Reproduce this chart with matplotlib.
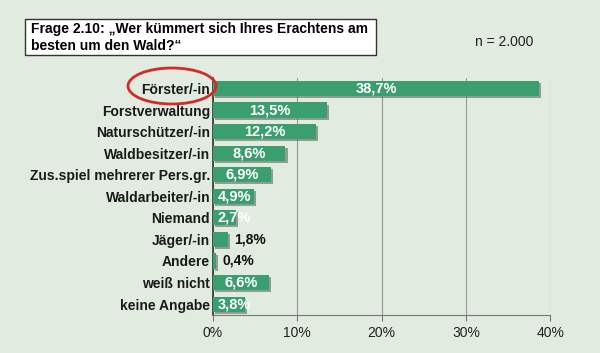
import matplotlib
matplotlib.use("Agg")
import matplotlib.pyplot as plt
import matplotlib.patheffects as pe
from matplotlib.patches import Ellipse, Rectangle

plt.rcParams['font.family'] = ['Liberation Sans', 'DejaVu Sans']

categories = ["Förster/-in", "Forstverwaltung", "Naturschützer/-in", "Waldbesitzer/-in",
              "Zus.spiel mehrerer Pers.gr.", "Waldarbeiter/-in", "Niemand", "Jäger/-in",
              "Andere", "weiß nicht", "keine Angabe"]
values = [38.7, 13.5, 12.2, 8.6, 6.9, 4.9, 2.7, 1.8, 0.4, 6.6, 3.8]
labels = ["38,7%", "13,5%", "12,2%", "8,6%", "6,9%", "4,9%", "2,7%", "1,8%", "0,4%", "6,6%", "3,8%"]
xticks = [0, 10, 20, 30, 40]

bg = "#e1ebdf"
bar_col = "#3a9e6e"

fig = plt.figure(figsize=(6, 3.53), dpi=100)
fig.patch.set_facecolor(bg)
ax = fig.add_axes([0.355, 0.108, 0.562, 0.672])
ax.set_facecolor(bg)

ypos = list(range(len(categories)))
ax.barh(ypos, values, height=0.7, color=bar_col, zorder=3,
        path_effects=[pe.SimplePatchShadow(offset=(1.5, -1.5), shadow_rgbFace="#5a6a5a", alpha=0.6), pe.Normal()])
ax.set_ylim(len(categories) - 0.5, -0.5)
ax.set_xlim(0, 40)
ax.set_yticks(ypos)
ax.set_yticklabels(categories, fontsize=10, fontweight="bold", color="#1a1a1a")
ax.set_xticks(xticks)
ax.set_xticklabels([f"{t}%" for t in xticks], fontsize=10, color="#222222")
ax.tick_params(axis="y", length=0, pad=2)
ax.tick_params(axis="x", length=4, color="#777777", pad=4)
ax.grid(axis="x", color="#9a9a9a", linewidth=0.8, zorder=0)
for s in ["top", "right"]:
    ax.spines[s].set_visible(False)
ax.spines["left"].set_color("#333333")
ax.spines["left"].set_linewidth(1.2)
ax.spines["bottom"].set_color("#777777")

for y, v, lab in zip(ypos, values, labels):
    if v < 2.5:
        ax.text(v + 0.7, y, lab, va="center", ha="left", fontsize=10, fontweight="bold", color="#111111", zorder=4)
    else:
        cx = max(v / 2, 2.5)
        ax.text(cx, y, lab, va="center", ha="center", fontsize=10.5, fontweight="bold", color="white", zorder=4)

# title box
fig.patches.append(Rectangle((25 / 600, 1 - 55 / 353), 351 / 600, 36 / 353, transform=fig.transFigure,
                             facecolor="white", edgecolor="#333333", linewidth=1))
fig.text(31 / 600, 1 - 37.5 / 353, "Frage 2.10: „Wer kümmert sich Ihres Erachtens am\nbesten um den Wald?“",
         fontsize=10, fontweight="bold", va="center", ha="left", linespacing=1.35)
fig.text(475 / 600, 1 - 42 / 353, "n = 2.000", fontsize=10, va="center", ha="left", color="#222222")

# red ellipse
fig.patches.append(Ellipse((172 / 600, 1 - 86 / 353), 88 / 600, 36 / 353, transform=fig.transFigure,
                           fill=False, edgecolor="#d42a2a", linewidth=2, zorder=10))

fig.savefig("out.png", dpi=100, facecolor=bg)
